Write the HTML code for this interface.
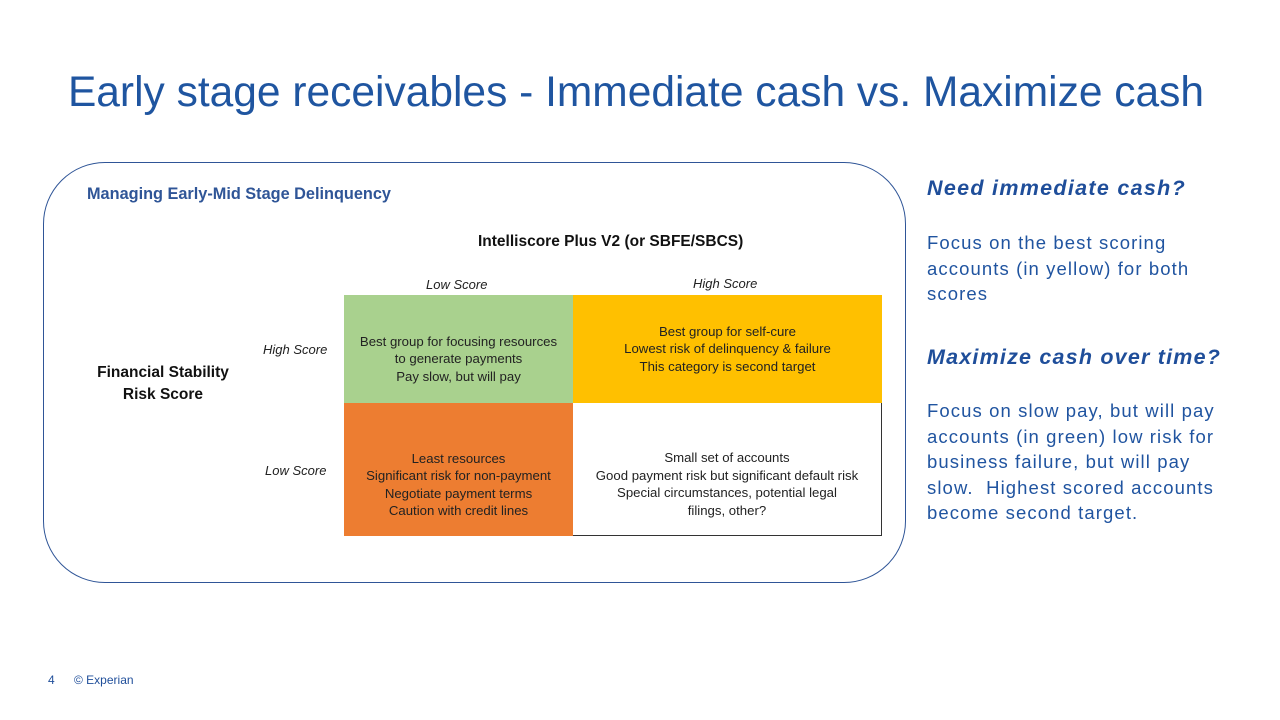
<!DOCTYPE html>
<html><head><meta charset="utf-8"><style>
body{margin:0;width:1280px;height:720px;background:#fff;position:relative;overflow:hidden;font-family:"Liberation Sans",sans-serif;}
div{position:absolute;}
.t{white-space:nowrap;}
.c{font-size:13.2px;color:#222;text-align:center;line-height:17.5px;display:flex;align-items:center;justify-content:center;flex-direction:column;box-sizing:border-box;}
.lbl{font-size:13px;font-style:italic;color:#222;}
</style></head><body>
<div class="t" style="left:0;width:1272px;text-align:center;top:69px;font-size:42.5px;color:#1F55A0;">Early stage receivables - Immediate cash vs. Maximize cash</div>
<div style="left:43px;top:162px;width:861px;height:419px;border:1.5px solid #2F5597;border-radius:62px;"></div>
<div class="t" style="left:87px;top:185px;font-size:16.3px;font-weight:bold;color:#2F5597;">Managing Early-Mid Stage Delinquency</div>
<div class="t" style="left:478px;top:233px;font-size:15.5px;font-weight:bold;color:#111;">Intelliscore Plus V2 (or SBFE/SBCS)</div>
<div class="t lbl" style="left:426px;top:277px;">Low Score</div>
<div class="t lbl" style="left:693px;top:276px;">High Score</div>
<div class="t lbl" style="left:263px;top:342px;">High Score</div>
<div class="t lbl" style="left:265px;top:463px;">Low Score</div>
<div style="left:80px;top:362px;width:166px;text-align:center;font-size:15.5px;font-weight:bold;color:#111;line-height:22px;">Financial Stability<br>Risk Score</div>
<div class="c" style="left:344px;top:295px;width:229px;height:108px;background:#A9D18E;padding-top:20px;">Best group for focusing resources<br>to generate payments<br>Pay slow, but will pay</div>
<div class="c" style="left:573px;top:295px;width:309px;height:108px;background:#FFC000;">Best group for self-cure<br>Lowest risk of delinquency &amp; failure<br>This category is second target</div>
<div class="c" style="left:344px;top:403px;width:229px;height:133px;background:#ED7D31;padding-top:30px;">Least resources<br>Significant risk for non-payment<br>Negotiate payment terms<br>Caution with credit lines</div>
<div class="c" style="left:573px;top:403px;width:309px;height:133px;background:#fff;border-right:1px solid #333;border-bottom:1px solid #333;padding-top:30px;">Small set of accounts<br>Good payment risk but significant default risk<br>Special circumstances, potential legal<br>filings, other?</div>
<div class="t" style="left:927px;top:176px;font-size:21.5px;font-weight:bold;font-style:italic;color:#1F4E9A;letter-spacing:1.3px;">Need immediate cash?</div>
<div style="left:927px;top:230px;width:320px;font-size:18.5px;line-height:25.5px;color:#2054A0;letter-spacing:1.1px;">Focus on the best scoring<br>accounts (in yellow) for both<br>scores</div>
<div class="t" style="left:927px;top:345px;font-size:21.5px;font-weight:bold;font-style:italic;color:#1F4E9A;letter-spacing:1.2px;">Maximize cash over time?</div>
<div style="left:927px;top:398px;width:340px;font-size:18.5px;line-height:25.5px;color:#2054A0;letter-spacing:1.1px;">Focus on slow pay, but will pay<br>accounts (in green) low risk for<br>business failure, but will pay<br>slow.&nbsp; Highest scored accounts<br>become second target.</div>
<div class="t" style="left:48px;top:673px;font-size:12px;color:#1F4E9A;">4</div>
<div class="t" style="left:74px;top:673px;font-size:12px;color:#1F4E9A;">© Experian</div>
</body></html>
